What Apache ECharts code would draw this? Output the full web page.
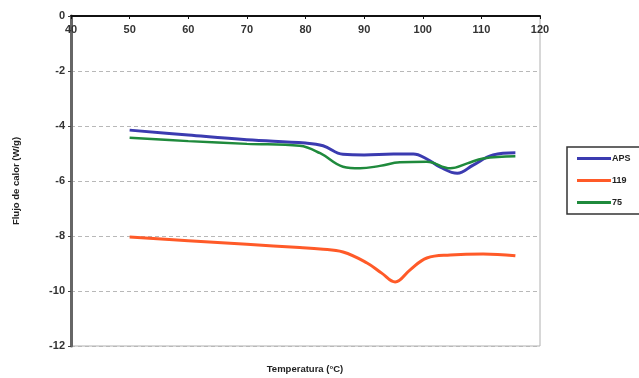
<!DOCTYPE html>
<html>
<head>
<meta charset="utf-8">
<script src="https://cdn.jsdelivr.net/npm/echarts@6/dist/echarts.min.js"></script>
<style>
  html, body { margin: 0; padding: 0; background: #fff; }
  #chart { width: 639px; height: 378px; }
</style>
</head>
<body>
<div id="chart"></div>
<script>
// DSC heat-flow curves: temperature (°C) vs heat flow (W/g)
const seriesNames = ['APS', '119', '75'];
const seriesColors = ['#3b3bb0', '#ff5a28', '#1f8a3c'];

const tempAPS = [50, 60, 70, 80, 83, 86.4, 90, 95, 98.4, 100.7, 103, 105.9, 108.6, 112, 115.8];
const valAPS  = [-4.15, -4.33, -4.5, -4.62, -4.72, -5.03, -5.05, -5.02, -5.02, -5.2, -5.5, -5.72, -5.42, -5.05, -4.97];

const temp119 = [50, 60, 70, 79, 82.5, 86.4, 90.5, 93, 95.3, 97.8, 100.7, 104.7, 110.3, 115.8];
const val119  = [-8.04, -8.17, -8.3, -8.42, -8.47, -8.58, -8.98, -9.35, -9.67, -9.24, -8.8, -8.69, -8.65, -8.72];

const temp75 = [50, 60, 70, 79, 82.5, 86.4, 89.3, 92.7, 96.1, 100.7, 104.7, 107.6, 110.3, 115.8];
const val75  = [-4.43, -4.55, -4.65, -4.72, -4.99, -5.48, -5.54, -5.45, -5.32, -5.3, -5.54, -5.36, -5.18, -5.1];

const pairs = (xs, ys) => xs.map((x, i) => [x, ys[i]]);
const seriesData = [pairs(tempAPS, valAPS), pairs(temp119, val119), pairs(temp75, val75)];
const lineWidths = [3, 3, 2.5];

const chart = echarts.init(document.getElementById('chart'), null, { renderer: 'canvas' });
const font = 'Liberation Sans, Arial, sans-serif';

chart.setOption({
  animation: false,
  backgroundColor: '#fff',
  grid: { left: 71, right: 99, top: 16, bottom: 32, show: true, borderColor: '#b0b0b0', borderWidth: 1 },
  legend: {
    orient: 'vertical',
    left: 567, top: 147,
    width: 90,
    padding: [7, 30, 7, 10],
    itemGap: 13,
    itemWidth: 34, itemHeight: 3,
    icon: 'rect',
    borderColor: '#333', borderWidth: 1.5,
    textStyle: { fontFamily: font, fontSize: 9, fontWeight: 'bold', color: '#222', padding: [0, 0, 0, -4] },
    data: seriesNames
  },
  xAxis: {
    type: 'value',
    position: 'top',
    min: 40, max: 120, interval: 10,
    axisLine: { show: true, lineStyle: { color: '#111', width: 2 } },
    axisTick: { show: true, inside: true, length: 3, lineStyle: { color: '#111' } },
    axisLabel: { inside: true, margin: 8, fontFamily: font, fontSize: 11, fontWeight: 'bold', color: '#333' },
    splitLine: { show: false }
  },
  yAxis: {
    type: 'value',
    min: -12, max: 0, interval: 2,
    name: 'Flujo de calor (W/g)',
    nameLocation: 'middle',
    nameGap: 50,
    nameTextStyle: { fontFamily: font, fontSize: 9.5, fontWeight: 'bold', color: '#222' },
    axisLine: { show: true, lineStyle: { color: '#666', width: 3 } },
    axisTick: { show: true, length: 3, lineStyle: { color: '#444' } },
    axisLabel: { margin: 6, fontFamily: font, fontSize: 11, fontWeight: 'bold', color: '#333' },
    splitLine: { show: true, lineStyle: { color: '#b8b8b8', type: [4, 3], width: 1 } }
  },
  graphic: [{
    type: 'text',
    x: 305, y: 369,
    style: {
      text: 'Temperatura (°C)',
      fontFamily: font, fontSize: 9.5, fontWeight: 'bold', fill: '#222',
      textAlign: 'center', textVerticalAlign: 'middle'
    }
  }],
  series: seriesNames.map((name, i) => ({
    name,
    type: 'line',
    data: seriesData[i],
    smooth: 0.4,
    showSymbol: false,
    symbol: 'none',
    color: seriesColors[i],
    lineStyle: { width: lineWidths[i], color: seriesColors[i] }
  }))
});
</script>
</body>
</html>
